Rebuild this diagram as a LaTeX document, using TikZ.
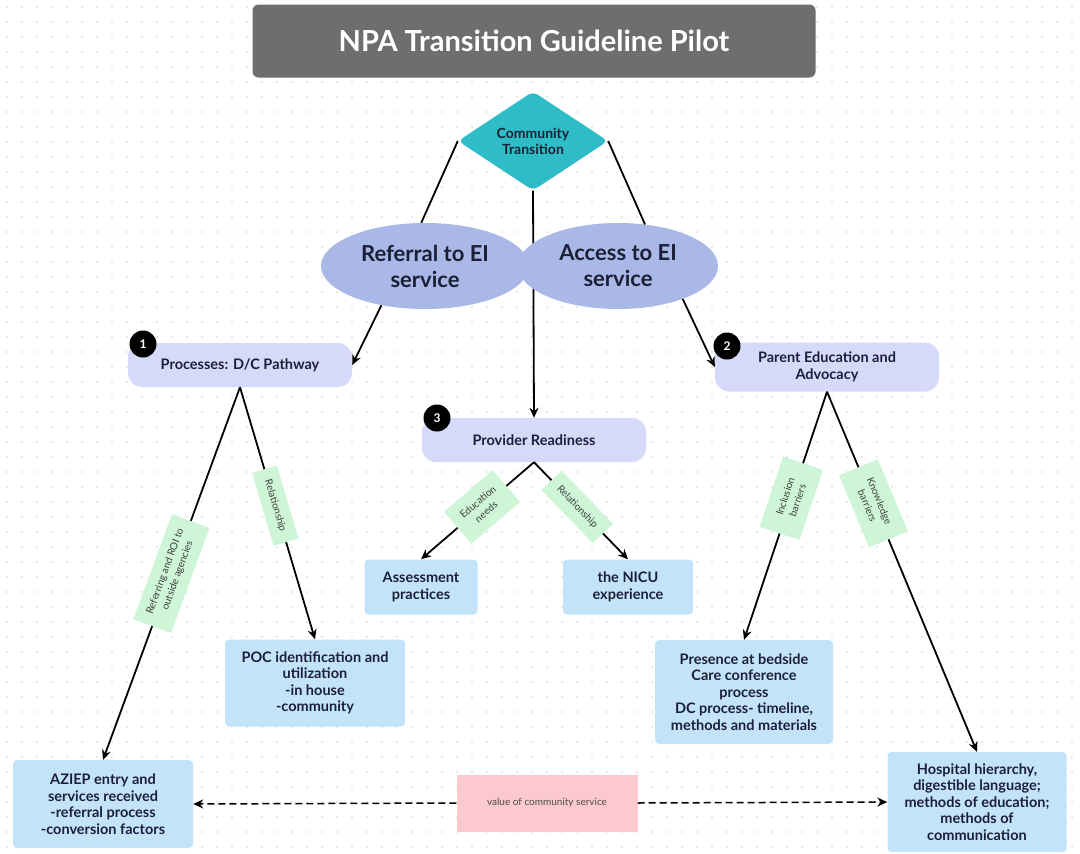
\documentclass[tikz,border=0pt]{standalone}
\usepackage{fontspec}
\setmainfont{Lato}
\usetikzlibrary{shapes.geometric,arrows.meta,backgrounds}

\definecolor{titlegray}{HTML}{6E6E6E}
\definecolor{teal}{HTML}{2EBDC6}
\definecolor{ovalblue}{HTML}{A9B8E7}
\definecolor{lavender}{HTML}{D7D9FA}
\definecolor{boxblue}{HTML}{C3E3FA}
\definecolor{tagreen}{HTML}{CDF5D6}
\definecolor{pinkbox}{HTML}{FCC9CF}
\definecolor{ink}{HTML}{1C2036}

\tikzset{
  phase/.style={fill=lavender, rounded corners=14pt, text=ink, align=center,
    font=\fontsize{14.5}{16.5}\selectfont\bfseries, minimum width=224pt, minimum height=44pt},
  box/.style={fill=boxblue, rounded corners=4pt, text=ink, align=center,
    font=\fontsize{14.5}{16.5}\selectfont\bfseries},
  oval/.style={ellipse, fill=ovalblue, text=ink, align=center, inner sep=0pt,
    font=\fontsize{22}{26}\selectfont\bfseries, minimum height=86pt},
  badge/.style={circle, fill=black, text=white, minimum size=27pt, inner sep=0pt,
    font=\fontsize{12}{12}\selectfont\bfseries},
  tag/.style={fill=tagreen, text=black!75, align=center, sloped, inner sep=3pt,
    font=\fontsize{10}{13}\selectfont},
  link/.style={line width=1.8pt, ->, >={Stealth[length=10pt,width=9pt]}},
}

\begin{document}
\begin{tikzpicture}[x=1pt,y=-1pt]
    \useasboundingbox (0,0) rectangle (1080,854);

    \node[fill=titlegray, rounded corners=6pt, minimum width=563pt, minimum height=73pt,
      text=white, font=\fontsize{29}{29}\selectfont\bfseries] (title) at (534,41) {NPA Transition Guideline Pilot};

    \node[diamond, fill=teal, rounded corners=6pt, minimum width=150pt, minimum height=92pt,
      inner sep=0pt, text=ink, align=center, font=\fontsize{14}{16}\selectfont\bfseries] (diam) at (533,141) {Community\\Transition};

    \node[oval, minimum width=208pt] (ref) at (425,266) {Referral to EI\\service};
    \node[oval, minimum width=200pt] (acc) at (618,266) {Access to EI\\service};

    \node[phase] (proc) at (240,365) {Processes: D/C Pathway};
    \node[phase, minimum height=49pt] (parent) at (827,367) {Parent Education and\\Advocacy};
    \node[phase] (prov) at (534,440) {Provider Readiness};

    \node[badge] (b1) at (143,344) {1};
    \node[badge] (b2) at (727,346) {2};
    \node[badge] (b3) at (437,418) {3};

    \node[box, minimum width=113pt, minimum height=55pt] (assess) at (421,587) {Assessment\\practices};
    \node[box, minimum width=130pt, minimum height=55pt] (nicu) at (628,587) {the NICU\\experience};
    \node[box, minimum width=180pt, minimum height=87pt] (poc) at (315,683) {POC identification and\\utilization\\-in house\\-community};
    \node[box, minimum width=178pt, minimum height=104pt] (pres) at (744,692) {Presence at bedside\\Care conference\\process\\DC process- timeline,\\methods and materials};
    \node[box, minimum width=180pt, minimum height=88pt] (aziep) at (103,804) {AZIEP entry and\\services received\\-referral process\\-conversion factors};
    \node[box, minimum width=179pt, minimum height=100pt] (hosp) at (977,802) {Hospital hierarchy,\\digestible language;\\methods of education;\\methods of\\communication};
    \node[fill=pinkbox, minimum width=181pt, minimum height=57pt, text=black!70,
      font=\fontsize{10}{12}\selectfont] (val) at (547,803) {value of community service};

    \begin{scope}[on background layer]
        \foreach \x in {7,22,...,1080}
            \foreach \y in {7,22,...,854}
                \fill[black!18] (\x,\y) circle (0.8pt);
        \draw[link] (diam.south) -- (prov.north);
    \end{scope}

    \draw[line width=1.8pt] (diam.west) -- (ref.95);
    \draw[line width=1.8pt] (diam.east) -- (acc.57);
    \draw[link] (ref.222) -- (proc.east);
    \draw[link] (acc.333) -- (parent.west);

    \draw[link] (proc.south) -- node[tag, pos=0.5, minimum width=112pt, minimum height=40pt] {Referring and ROI to\\outside agencies} (aziep.north);
    \draw[link] (proc.south) -- node[tag, pos=0.47, minimum width=76pt, minimum height=26pt] {Relationship} (poc.north);
    \draw[link] (prov.south) -- node[tag, pos=0.46, minimum width=64pt, minimum height=42pt] {Education\\needs} (assess.north);
    \draw[link] (prov.south) -- node[tag, pos=0.46, minimum width=74pt, minimum height=28pt] {Relationship} (nicu.north);
    \draw[link] (parent.south) -- node[tag, pos=0.43, minimum width=74pt, minimum height=42pt] {Inclusion\\barriers} (pres.north);
    \draw[link] (parent.south) -- node[tag, pos=0.31, minimum width=78pt, minimum height=42pt] {Knowledge\\barriers} (hosp.north);

    \draw[link, dash pattern=on 7pt off 4pt, line width=1.5pt] (val.west) -- (aziep.east);
    \draw[link, dash pattern=on 7pt off 4pt, line width=1.5pt] (val.east) -- (hosp.west);
\end{tikzpicture}
\end{document}
